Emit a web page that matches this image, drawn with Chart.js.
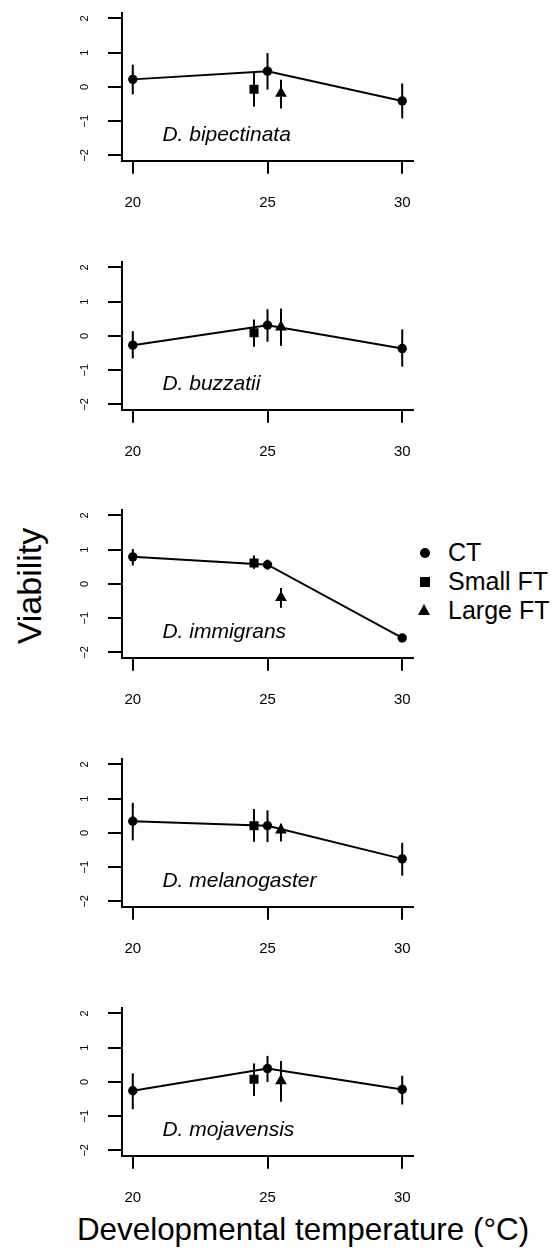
<!DOCTYPE html>
<html>
<head>
<meta charset="utf-8">
<script src="https://cdn.jsdelivr.net/npm/chart.js@4.4.1/dist/chart.umd.min.js"></script>
<style>
  body { margin: 0; background: #fff; width: 558px; height: 1255px; position: relative; overflow: hidden;
         font-family: "Liberation Sans", Arial, sans-serif; color: #000; }
  canvas.panel { position: absolute; left: 80px; }
  .ylab { position: absolute; width: 200px; height: 34px; line-height: 34px; font-size: 34px;
          text-align: center; left: -71px; top: 569px; transform: rotate(-90deg); }
  .xlab { position: absolute; width: 540px; left: 33px; top: 1214px; height: 32px; line-height: 32px;
          font-size: 31.4px; text-align: center; }
  .legend { position: absolute; left: 414px; top: 538px; }
  .legend .row { position: relative; height: 29px; line-height: 29px; font-size: 25px; padding-left: 34px; }
  .legend .sym { position: absolute; background: #000; }
  .legend .circle { width: 10px; height: 10px; border-radius: 50%; left: 6px; top: 10px; }
  .legend .square { width: 10px; height: 10px; left: 6px; top: 10px; }
  .legend .tri { width: 0; height: 0; background: none; border-left: 6.5px solid transparent;
                 border-right: 6.5px solid transparent; border-bottom: 11px solid #000; left: 4px; top: 8px; }
</style>
</head>
<body>

<div class="ylab">Viability</div>
<div class="xlab">Developmental temperature (°C)</div>
<div class="legend">
  <div class="row"><span class="sym circle"></span>CT</div>
  <div class="row"><span class="sym square"></span>Small FT</div>
  <div class="row"><span class="sym tri"></span>Large FT</div>
</div>

<script>
// Species panels, top to bottom
const species = ['D. bipectinata', 'D. buzzatii', 'D. immigrans', 'D. melanogaster', 'D. mojavensis'];

const xTicks = [20, 25, 30];
const yTicks = [-2, -1, 0, 1, 2];

// Constant temperature (CT) at 20, 25, 30
const ctTemps = [20, 25, 30];
const ctMean = [
    [0.22, 0.46, -0.41],
    [-0.27, 0.31, -0.37],
    [0.79, 0.56, -1.58],
    [0.34, 0.21, -0.76],
    [-0.26, 0.39, -0.22]
];
const ctLow = [
    [-0.22, -0.08, -0.92],
    [-0.66, -0.17, -0.90],
    [0.54, 0.42, -1.62],
    [-0.22, -0.27, -1.25],
    [-0.80, 0.00, -0.66]
];
const ctHigh = [
    [0.65, 0.99, 0.10],
    [0.14, 0.78, 0.19],
    [1.02, 0.71, -1.54],
    [0.88, 0.66, -0.29],
    [0.25, 0.76, 0.18]
];

// Fluctuating temperature, plotted just either side of 25
const smallTemp = 24.5;
const smallMean = [-0.07, 0.09, 0.61, 0.21, 0.08];
const smallLow = [-0.58, -0.32, 0.44, -0.26, -0.41];
const smallHigh = [0.41, 0.48, 0.83, 0.70, 0.54];

const largeTemp = 25.5;
const largeMean = [-0.19, 0.26, -0.40, 0.08, 0.03];
const largeLow = [-0.63, -0.29, -0.70, -0.25, -0.58];
const largeHigh = [0.21, 0.80, -0.12, 0.27, 0.61];

// species label anchor (data units)
const labelX = 21.1;
const labelY = -1.42;

Chart.defaults.font.family = '"Liberation Sans", Arial, sans-serif';
Chart.defaults.color = '#000';

// vertical error bars, drawn under the points
const errorBars = {
    id: 'errorBars',
    beforeDatasetsDraw(chart) {
        const ctx = chart.ctx;
        const xs = chart.scales.x, ys = chart.scales.y;
        ctx.save();
        ctx.strokeStyle = '#000';
        ctx.lineWidth = 2;
        chart.data.datasets.forEach(ds => {
            ds.data.forEach((p, i) => {
                const px = xs.getPixelForValue(p.x);
                ctx.beginPath();
                ctx.moveTo(px, ys.getPixelForValue(ds.lo[i]));
                ctx.lineTo(px, ys.getPixelForValue(ds.hi[i]));
                ctx.stroke();
            });
        });
        ctx.restore();
    }
};

const speciesLabel = {
    id: 'speciesLabel',
    afterDraw(chart, args, opts) {
        const ctx = chart.ctx;
        ctx.save();
        ctx.font = 'italic 21px "Liberation Sans", Arial, sans-serif';
        ctx.fillStyle = '#000';
        ctx.textAlign = 'left';
        ctx.textBaseline = 'middle';
        ctx.fillText(opts.text, chart.scales.x.getPixelForValue(labelX), chart.scales.y.getPixelForValue(labelY));
        ctx.restore();
    }
};

const canvasW = 345, canvasH = 215, padTop = 8, plotH = 147.8;

species.forEach((name, k) => {
    const zeroY = 86.7 + k * 248.75;
    const top = zeroY - plotH / 2 - padTop;

    const canvas = document.createElement('canvas');
    canvas.className = 'panel';
    canvas.width = canvasW;
    canvas.height = canvasH;
    canvas.style.top = top + 'px';
    document.body.appendChild(canvas);

    new Chart(canvas, {
        type: 'scatter',
        data: {
            datasets: [
                {
                    label: 'CT',
                    data: ctTemps.map((t, i) => ({ x: t, y: ctMean[k][i] })),
                    lo: ctLow[k],
                    hi: ctHigh[k],
                    showLine: true,
                    borderColor: '#000',
                    borderWidth: 2,
                    backgroundColor: '#000',
                    pointStyle: 'circle',
                    pointRadius: 4.7,
                    pointBorderWidth: 0
                },
                {
                    label: 'Small FT',
                    data: [{ x: smallTemp, y: smallMean[k] }],
                    lo: [smallLow[k]],
                    hi: [smallHigh[k]],
                    backgroundColor: '#000',
                    pointStyle: 'rect',
                    pointRadius: 6.4,
                    pointBorderWidth: 0
                },
                {
                    label: 'Large FT',
                    data: [{ x: largeTemp, y: largeMean[k] }],
                    lo: [largeLow[k]],
                    hi: [largeHigh[k]],
                    backgroundColor: '#000',
                    pointStyle: 'triangle',
                    pointRadius: 6.8,
                    pointBorderWidth: 0
                }
            ]
        },
        options: {
            responsive: false,
            animation: false,
            layout: { padding: { top: padTop, right: 12, left: 0, bottom: 0 } },
            plugins: {
                legend: { display: false },
                tooltip: { enabled: false },
                speciesLabel: { text: name }
            },
            scales: {
                x: {
                    type: 'linear',
                    min: 19.6,
                    max: 30.4,
                    afterBuildTicks: s => { s.ticks = xTicks.map(v => ({ value: v })); },
                    afterFit: s => {
                        s.height = canvasH - padTop - plotH;
                        s.paddingLeft = 0;
                        s.paddingRight = 0;
                    },
                    border: { display: true, color: '#000', width: 2 },
                    grid: { drawOnChartArea: false, drawTicks: true, tickLength: 13, lineWidth: 2, color: '#000' },
                    ticks: { autoSkip: false, maxRotation: 0, padding: 20, font: { size: 15 } }
                },
                y: {
                    type: 'linear',
                    min: -2.16,
                    max: 2.16,
                    afterBuildTicks: s => { s.ticks = yTicks.map(v => ({ value: v })); },
                    afterFit: s => {
                        s.width = 42;
                        s.paddingTop = 0;
                        s.paddingBottom = 0;
                    },
                    border: { display: true, color: '#000', width: 2 },
                    grid: { drawOnChartArea: false, drawTicks: true, tickLength: 14, lineWidth: 2, color: '#000' },
                    ticks: {
                        minRotation: 90,
                        maxRotation: 90,
                        crossAlign: 'center',
                        padding: 17,
                        font: { size: 11 },
                        callback: v => (v < 0 ? '\u2212' + Math.abs(v) : String(v))
                    }
                }
            }
        },
        plugins: [errorBars, speciesLabel]
    });
});
</script>
</body>
</html>
